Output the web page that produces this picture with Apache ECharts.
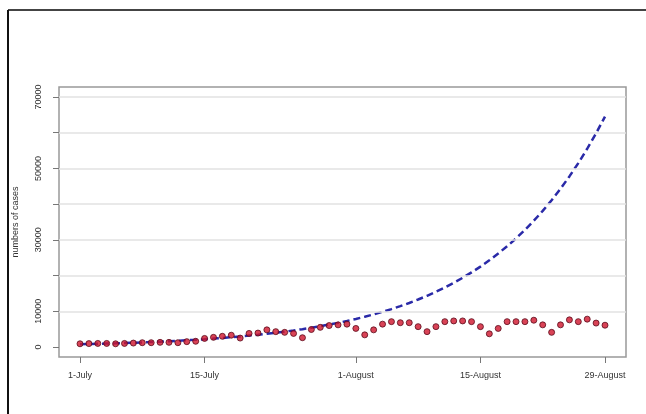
<!DOCTYPE html>
<html>
<head>
<meta charset="utf-8">
<script src="https://cdn.jsdelivr.net/npm/echarts@6/dist/echarts.min.js"></script>
<style>
html, body { margin: 0; background: #fff; }
#main { width: 646px; height: 414px; }
</style>
</head>
<body>
<div id="main"></div>
<script>
// daily cases, day 0 = 1 July ... day 59 = 29 August
var cases = [900, 950, 1000, 1000, 900, 1000, 1100, 1200, 1200, 1300,
    1300, 1200, 1500, 1600, 2400, 2700, 3000, 3300, 2500, 3800,
    3900, 4800, 4300, 4100, 3800, 2600, 4900, 5500, 6000, 6200,
    6400, 5200, 3400, 4800, 6400, 7100, 6800, 6800, 5700, 4300,
    5700, 7100, 7300, 7300, 7100, 5700, 3700, 5200, 7100, 7100,
    7100, 7500, 6200, 4100, 6200, 7600, 7100, 7800, 6700, 6100];
var trend = [760, 820, 890, 960, 1030, 1110, 1200, 1290, 1390, 1500,
    1620, 1750, 1880, 2030, 2190, 2360, 2540, 2740, 2950, 3190,
    3430, 3700, 3990, 4300, 4640, 5000, 5390, 5810, 6270, 6760,
    7290, 7850, 8470, 9130, 9840, 10610, 11440, 12330, 13300, 14340,
    15460, 16660, 17960, 19370, 20880, 22510, 24270, 26170, 28210, 30410,
    32790, 35350, 38110, 41090, 44300, 47760, 51490, 55510, 59850, 64520];
var tickDays = [0, 14, 31, 45, 59];
var tickLabels = ['1-July', '15-July', '1-August', '15-August', '29-August'];
var yTicks = [0, 10000, 20000, 30000, 40000, 50000, 60000, 70000];
var yLabels = [0, 10000, 30000, 50000, 70000];
var gridLevels = [10000, 20000, 30000, 40000, 50000, 60000, 70000];

var font = 'Liberation Sans, Arial, sans-serif';
var myChart = echarts.init(document.getElementById('main'));
myChart.setOption({
    animation: false,
    backgroundColor: '#fff',
    graphic: [
        { type: 'line', shape: { x1: 8, y1: 10, x2: 646, y2: 10 }, style: { stroke: '#444', lineWidth: 2 } },
        { type: 'line', shape: { x1: 8, y1: 10, x2: 8, y2: 414 }, style: { stroke: '#111', lineWidth: 2 } }
    ],
    grid: {
        left: 59, right: 20, top: 87, bottom: 57,
        show: true, borderColor: '#999', borderWidth: 1.5,
        outerBoundsMode: 'none'
    },
    xAxis: {
        type: 'value',
        min: -2.36, max: 61.36,
        axisLine: { show: false, onZero: false },
        splitLine: { show: false },
        axisTick: { show: true, customValues: tickDays, length: 6, lineStyle: { color: '#777' } },
        axisLabel: {
            customValues: tickDays, margin: 14, color: '#333', fontSize: 9, fontFamily: font,
            formatter: function (v) { return tickLabels[tickDays.indexOf(v)]; }
        }
    },
    yAxis: {
        type: 'value',
        min: -2800, max: 72800,
        name: 'numbers of cases',
        nameLocation: 'middle', nameRotate: 90, nameGap: 39,
        nameTextStyle: { color: '#333', fontSize: 9, fontFamily: font },
        axisLine: { show: false, onZero: false },
        splitLine: { show: false },
        axisTick: { show: true, customValues: yTicks, length: 6, lineStyle: { color: '#777' } },
        axisLabel: {
            customValues: yLabels, rotate: 90, margin: 16, color: '#333', fontSize: 9, fontFamily: font,
            formatter: function (v) { return String(v); }
        }
    },
    series: [
        {
            type: 'line',
            data: trend.map(function (v, i) { return [i, v]; }),
            showSymbol: false,
            z: 2,
            lineStyle: { color: '#2a2aa8', width: 2.5, type: [7, 4] },
            markLine: {
                silent: true,
                symbol: 'none',
                label: { show: false },
                lineStyle: { color: '#e2e2e2', width: 1.5, type: 'solid' },
                data: gridLevels.map(function (v) { return { yAxis: v }; })
            }
        },
        {
            type: 'scatter',
            data: cases.map(function (v, i) { return [i, v]; }),
            symbolSize: 6,
            z: 3,
            itemStyle: { color: '#d0142c', borderColor: '#5a0a1a', borderWidth: 1 }
        }
    ]
});
</script>
</body>
</html>
